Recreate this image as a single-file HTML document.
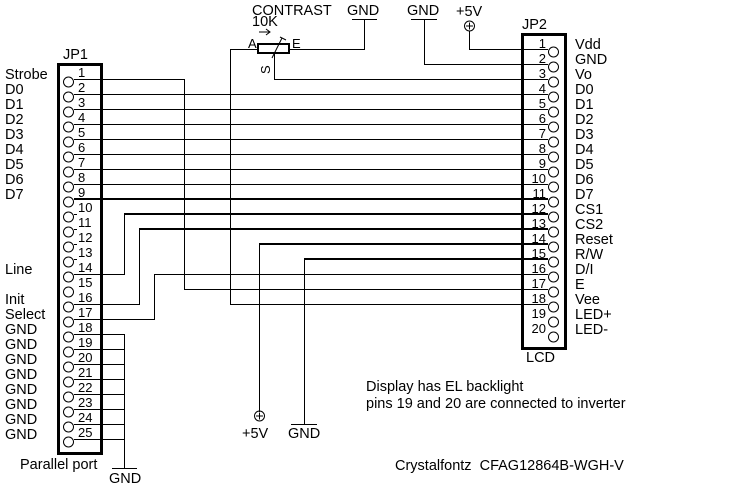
<!DOCTYPE html>
<html><head><meta charset="utf-8"><style>
html,body{margin:0;padding:0;background:#fff;}
svg{display:block;}
text{font-family:"Liberation Sans",Arial,sans-serif;font-size:14.5px;fill:#000;}
.n{font-size:13px;}
</style></head><body>
<svg width="741" height="488" viewBox="0 0 741 488" xmlns="http://www.w3.org/2000/svg" shape-rendering="crispEdges">
<g stroke="#000" fill="none">
<rect x="58.5" y="64.5" width="43" height="389" stroke-width="3"/>
<rect x="522.5" y="34.5" width="43" height="314" stroke-width="3"/>
</g>
<g stroke="#000" fill="#fff" stroke-width="1" shape-rendering="auto">
<circle cx="68.5" cy="82" r="5"/><circle cx="68.5" cy="97" r="5"/><circle cx="68.5" cy="112" r="5"/><circle cx="68.5" cy="127" r="5"/><circle cx="68.5" cy="142" r="5"/><circle cx="68.5" cy="157" r="5"/><circle cx="68.5" cy="172" r="5"/><circle cx="68.5" cy="187" r="5"/><circle cx="68.5" cy="202" r="5"/><circle cx="68.5" cy="217" r="5"/><circle cx="68.5" cy="232" r="5"/><circle cx="68.5" cy="247" r="5"/><circle cx="68.5" cy="262" r="5"/><circle cx="68.5" cy="277" r="5"/><circle cx="68.5" cy="292" r="5"/><circle cx="68.5" cy="307" r="5"/><circle cx="68.5" cy="322" r="5"/><circle cx="68.5" cy="337" r="5"/><circle cx="68.5" cy="352" r="5"/><circle cx="68.5" cy="367" r="5"/><circle cx="68.5" cy="382" r="5"/><circle cx="68.5" cy="397" r="5"/><circle cx="68.5" cy="412" r="5"/><circle cx="68.5" cy="427" r="5"/><circle cx="68.5" cy="442" r="5"/>
</g>
<g stroke="#000" fill="#fff" stroke-width="1" shape-rendering="auto">
<circle cx="553.5" cy="52" r="5"/><circle cx="553.5" cy="67" r="5"/><circle cx="553.5" cy="82" r="5"/><circle cx="553.5" cy="97" r="5"/><circle cx="553.5" cy="112" r="5"/><circle cx="553.5" cy="127" r="5"/><circle cx="553.5" cy="142" r="5"/><circle cx="553.5" cy="157" r="5"/><circle cx="553.5" cy="172" r="5"/><circle cx="553.5" cy="187" r="5"/><circle cx="553.5" cy="202" r="5"/><circle cx="553.5" cy="217" r="5"/><circle cx="553.5" cy="232" r="5"/><circle cx="553.5" cy="247" r="5"/><circle cx="553.5" cy="262" r="5"/><circle cx="553.5" cy="277" r="5"/><circle cx="553.5" cy="292" r="5"/><circle cx="553.5" cy="307" r="5"/><circle cx="553.5" cy="322" r="5"/><circle cx="553.5" cy="337" r="5"/>
</g>
<g stroke="#000" fill="none" stroke-width="1">
<path d="M74 94.5H548M74 109.5H548M74 124.5H548M74 139.5H548M74 154.5H548M74 169.5H548M74 184.5H548"/>
<path d="M74 214.5H77M74 229.5H77M74 244.5H77M74 259.5H77"/>
<path d="M74 79.5H184.5V289.5H548"/>
<path d="M74 274.5H124.5V214"/>
<path d="M74 304.5H139.5V229"/>
<path d="M74 319.5H154.5V274.5H548"/>
<path d="M258 49.5H230.5V304.5H548"/>
<path d="M289 49.5H364.5V19"/>
<path d="M352 19.5H377"/>
<path d="M274.5 54V79.5H548"/>
<path d="M411 19.5H437M424.5 19V64.5H548"/>
<path d="M469.5 31V49.5H548"/>
<path d="M74 334.5H124.5V468M74 349.5H124.5M74 364.5H124.5M74 379.5H124.5M74 394.5H124.5M74 409.5H124.5M74 424.5H124.5M74 439.5H124.5M112 468.5H137"/>
<path d="M259.5 244V412M304.5 259V424M291 424.5H317"/>
</g>
<g stroke="#000" fill="none" stroke-width="2">
<path d="M74 199H548M124 214H548M139 229H548M259 244H548M304 259H548"/>
<rect x="258" y="44" width="31" height="9"/>
</g>
<g stroke="#000" fill="none" stroke-width="1" shape-rendering="auto">
<path d="M272 58L282 38M280 37L286 40"/>
<path d="M259 32H270M266 29L270 32L266 35"/>
<circle cx="469.5" cy="26" r="5"/><path d="M466 26H473M469.5 22.5V29.5"/>
<circle cx="259.5" cy="416" r="5"/><path d="M256 416H263M259.5 412.5V419.5"/>
</g>
<g>
<text x="78" y="77" class="n">1</text><text x="78" y="92" class="n">2</text><text x="78" y="107" class="n">3</text><text x="78" y="122" class="n">4</text><text x="78" y="137" class="n">5</text><text x="78" y="152" class="n">6</text><text x="78" y="167" class="n">7</text><text x="78" y="182" class="n">8</text><text x="78" y="197" class="n">9</text><text x="78" y="212" class="n">10</text><text x="78" y="227" class="n">11</text><text x="78" y="242" class="n">12</text><text x="78" y="257" class="n">13</text><text x="78" y="272" class="n">14</text><text x="78" y="287" class="n">15</text><text x="78" y="302" class="n">16</text><text x="78" y="317" class="n">17</text><text x="78" y="332" class="n">18</text><text x="78" y="347" class="n">19</text><text x="78" y="362" class="n">20</text><text x="78" y="377" class="n">21</text><text x="78" y="392" class="n">22</text><text x="78" y="407" class="n">23</text><text x="78" y="422" class="n">24</text><text x="78" y="437" class="n">25</text>
</g>
<g text-anchor="end">
<text x="546" y="48" class="n">1</text><text x="546" y="63" class="n">2</text><text x="546" y="78" class="n">3</text><text x="546" y="93" class="n">4</text><text x="546" y="108" class="n">5</text><text x="546" y="123" class="n">6</text><text x="546" y="138" class="n">7</text><text x="546" y="153" class="n">8</text><text x="546" y="168" class="n">9</text><text x="546" y="183" class="n">10</text><text x="546" y="198" class="n">11</text><text x="546" y="213" class="n">12</text><text x="546" y="228" class="n">13</text><text x="546" y="243" class="n">14</text><text x="546" y="258" class="n">15</text><text x="546" y="273" class="n">16</text><text x="546" y="288" class="n">17</text><text x="546" y="303" class="n">18</text><text x="546" y="318" class="n">19</text><text x="546" y="333" class="n">20</text>
</g>
<g>
<text x="575" y="49">Vdd</text><text x="575" y="64">GND</text><text x="575" y="79">Vo</text><text x="575" y="94">D0</text><text x="575" y="109">D1</text><text x="575" y="124">D2</text><text x="575" y="139">D3</text><text x="575" y="154">D4</text><text x="575" y="169">D5</text><text x="575" y="184">D6</text><text x="575" y="199">D7</text><text x="575" y="214">CS1</text><text x="575" y="229">CS2</text><text x="575" y="244">Reset</text><text x="575" y="259">R/W</text><text x="575" y="274">D/I</text><text x="575" y="289">E</text><text x="575" y="304">Vee</text><text x="575" y="319">LED+</text><text x="575" y="334">LED-</text>
</g>
<g>
<text x="5" y="79">Strobe</text><text x="5" y="94">D0</text><text x="5" y="109">D1</text><text x="5" y="124">D2</text><text x="5" y="139">D3</text><text x="5" y="154">D4</text><text x="5" y="169">D5</text><text x="5" y="184">D6</text><text x="5" y="199">D7</text>
<text x="5" y="274">Line</text><text x="5" y="304">Init</text><text x="5" y="319">Select</text>
<text x="5" y="334">GND</text><text x="5" y="349">GND</text><text x="5" y="364">GND</text><text x="5" y="379">GND</text><text x="5" y="394">GND</text><text x="5" y="409">GND</text><text x="5" y="424">GND</text><text x="5" y="439">GND</text>
</g>
<text x="63" y="59">JP1</text>
<text x="522" y="29">JP2</text>
<text x="526" y="362">LCD</text>
<text x="252" y="15">CONTRAST</text>
<text x="252" y="26">10K</text>
<text x="248" y="48" class="n">A</text>
<text x="292" y="48" class="n">E</text>
<text x="0" y="0" class="n" transform="translate(270,74) rotate(-90)">S</text>
<text x="347" y="15">GND</text>
<text x="407" y="15">GND</text>
<text x="456" y="16">+5V</text>
<text x="242" y="438">+5V</text>
<text x="288" y="438">GND</text>
<text x="109" y="483">GND</text>
<text x="20" y="469">Parallel port</text>
<text x="366" y="391">Display has EL backlight</text>
<text x="366" y="408">pins 19 and 20 are connected to inverter</text>
<text x="395" y="470" xml:space="preserve">Crystalfontz  CFAG12864B-WGH-V</text>
</svg>
</body></html>
